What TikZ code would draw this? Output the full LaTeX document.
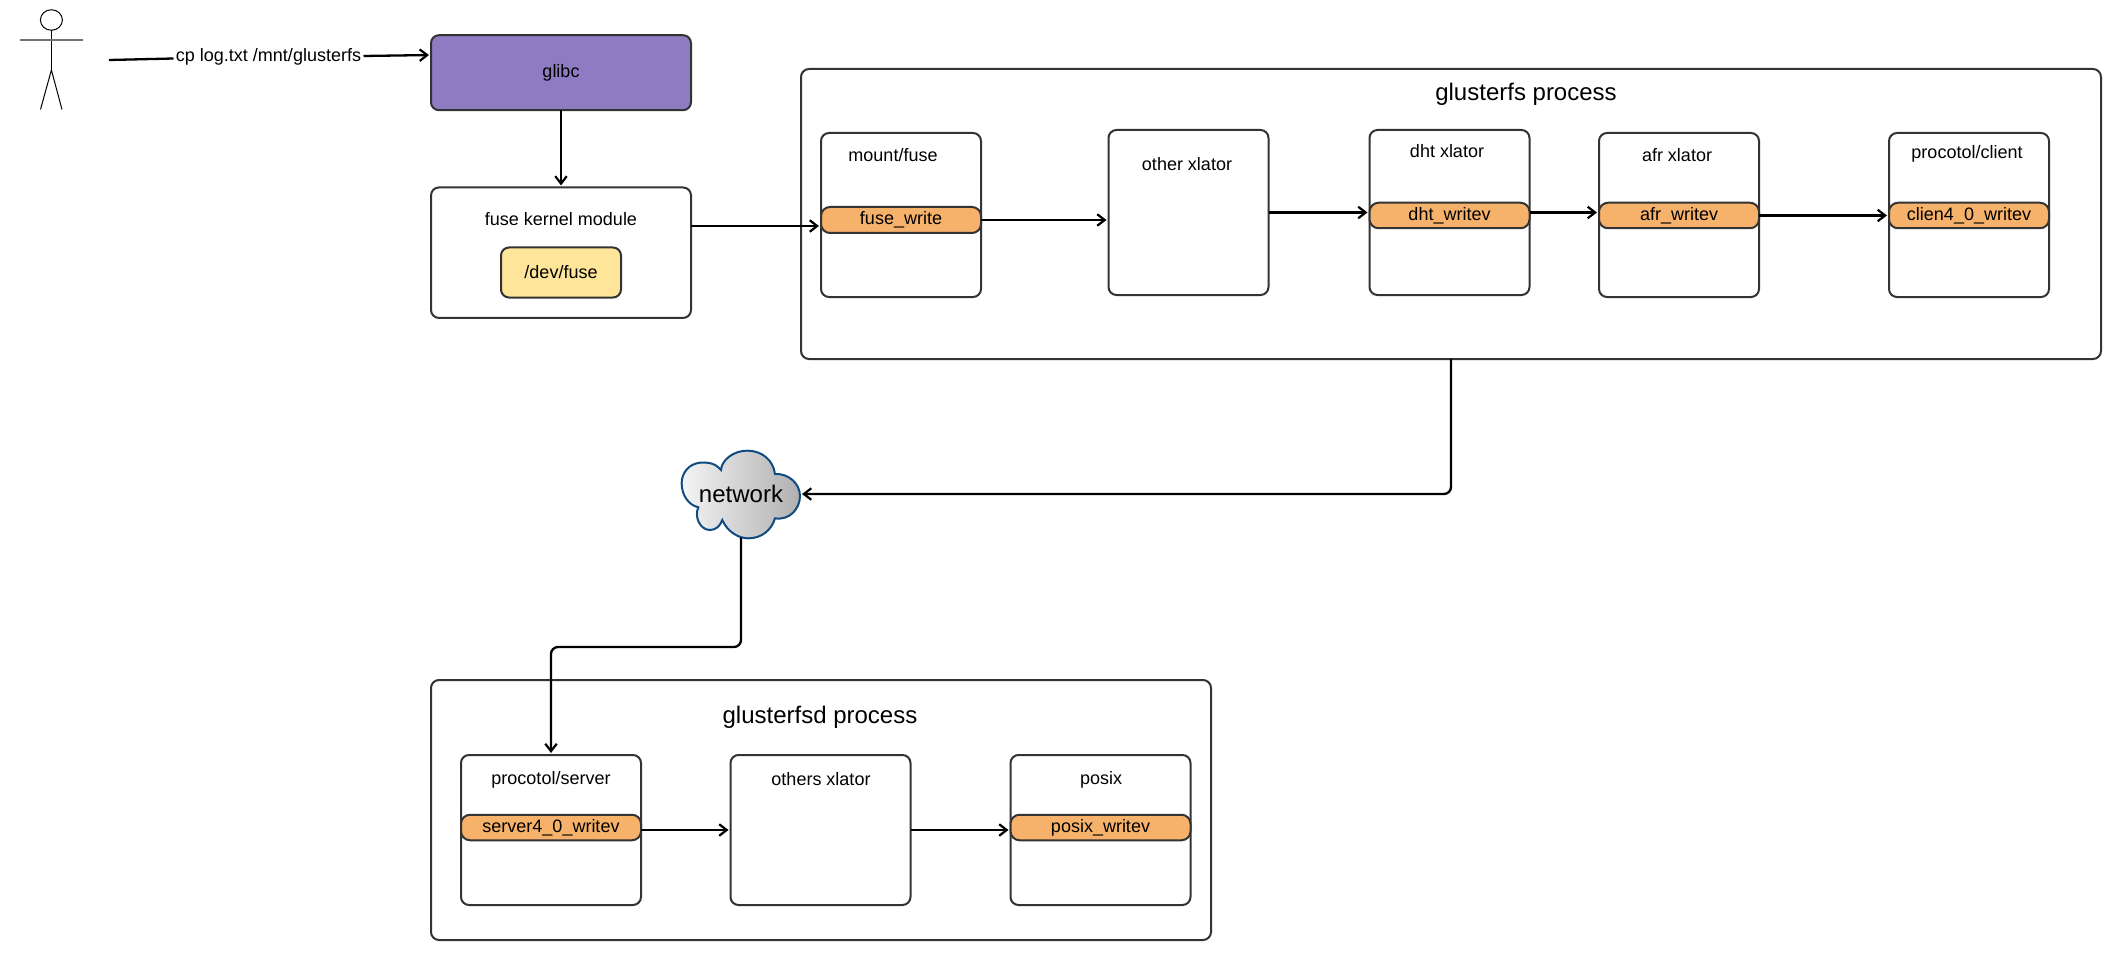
\documentclass[tikz,border=0pt]{standalone}
\usepackage{fontspec}
\setmainfont{Liberation Sans}
\usetikzlibrary{arrows.meta,calc,shapes.geometric}
\definecolor{strokedark}{HTML}{333333}
\definecolor{purplefill}{HTML}{8E7CC3}
\definecolor{yellowfill}{HTML}{FFE599}
\definecolor{orangefill}{HTML}{F6B26B}
\definecolor{cloudline}{HTML}{0F4A80}
\definecolor{cloudleft}{HTML}{F4F4F4}
\definecolor{cloudright}{HTML}{B0B0B0}
\newcommand{\smalltxt}{\fontsize{18}{20}\selectfont}
\newcommand{\bigtxt}{\fontsize{24}{28}\selectfont}
\tikzset{
  box/.style={draw=strokedark,line width=2pt,rounded corners=8pt,fill=white,inner sep=0pt,outer sep=0pt},
  pill/.style={box,fill=orangefill,rounded corners=9pt,font=\smalltxt},
  title/.style={inner sep=0pt,outer sep=0pt,font=\smalltxt,text=black},
  bigtitle/.style={inner sep=0pt,outer sep=0pt,font=\bigtxt,text=black},
  arr/.style={draw=black,line width=2.3pt,shorten >=2pt,-{Straight Barb[length=7.5pt,width=11.5pt,line width=2.2pt]}},
  plain/.style={draw=black,line width=2.3pt},
  stick/.style={draw=black,line width=1pt},
}
\begin{document}
\begin{tikzpicture}[x=1pt,y=-1pt]
\useasboundingbox (0,0) rectangle (2121,960);
% actor
\node[draw=black,line width=1pt,ellipse,minimum width=22pt,minimum height=20.5pt,inner sep=0pt,outer sep=0pt] (head) at (51.4,20) {};
\coordinate (hip) at (51.4,70);
\coordinate (armL) at (20,40);
\coordinate (armR) at (83,40);
\coordinate (legL) at (40.5,109.5);
\coordinate (legR) at (62,109.5);
\draw[stick] (head.south) -- (hip);
\draw[draw=black!55,line width=1.4pt] (armL) -- (armR);
\draw[stick] (legL) -- (hip) -- (legR);
% top-left
\node[box,fill=purplefill,minimum width=260pt,minimum height=75pt] (glibc) at (561,72.7) {};
\node[title] (glibctxt) at (561,73) {glibc};
\node[box,minimum width=260pt,minimum height=130.5pt] (fuse) at (561,252.7) {};
\node[title] (fusetxt) at (561,219) {fuse kernel module};
\node[box,fill=yellowfill,minimum width=120pt,minimum height=50pt] (dev) at (561,272.5) {};
\node[title] (devtxt) at (561,272) {/dev/fuse};
\coordinate (actorout) at (109,60);
\node[title,minimum width=190pt] (cmd) at (268.5,57) {cp log.txt /mnt/glusterfs};
% glusterfs process
\node[box,minimum width=1300pt,minimum height=290pt] (gfs) at (1451,214) {};
\node[bigtitle] (gfstxt) at (1526,94) {glusterfs process};
\node[box,minimum width=160pt,minimum height=164pt] (mount) at (901,215) {};
\node[title] (mounttxt) at (893,155) {mount/fuse};
\node[pill,minimum width=160pt,minimum height=26pt] (fusew) at (901,220) {fuse\_write};
\node[box,minimum width=160pt,minimum height=165pt] (other) at (1188.5,212.5) {};
\node[title] (othertxt) at (1187,164) {other xlator};
\node[box,minimum width=160pt,minimum height=165pt] (dht) at (1449.5,212.5) {};
\node[title] (dhttxt) at (1447,151) {dht xlator};
\node[pill,minimum width=160pt,minimum height=25.5pt] (dhtw) at (1449.5,215.5) {dht\_writev};
\node[box,minimum width=160pt,minimum height=164pt] (afr) at (1679,215) {};
\node[title] (afrtxt) at (1677,155) {afr xlator};
\node[pill,minimum width=160pt,minimum height=25.5pt] (afrw) at (1679,215.5) {afr\_writev};
\node[box,minimum width=160pt,minimum height=164pt] (client) at (1969,215) {};
\node[title] (clienttxt) at (1967,154) {procotol/client};
\node[pill,minimum width=160pt,minimum height=25.5pt] (clientw) at (1969,215.5) {clien4\_0\_writev};
% glusterfsd process
\node[box,minimum width=780pt,minimum height=260pt] (gfsd) at (821,810) {};
\node[bigtitle] (gfsdtxt) at (820,717) {glusterfsd process};
\node[box,minimum width=180pt,minimum height=150pt] (server) at (551,830) {};
\node[title] (servertxt) at (551,780) {procotol/server};
\node[pill,minimum width=180pt,minimum height=25.5pt] (serverw) at (551,827.5) {server4\_0\_writev};
\node[box,minimum width=180pt,minimum height=150pt] (others) at (820.5,830) {};
\node[title] (otherstxt) at (821,779) {others xlator};
\node[box,minimum width=180pt,minimum height=150pt] (posix) at (1100.5,830) {};
\node[title] (posixtxt) at (1101,780) {posix};
\node[pill,minimum width=180pt,minimum height=25.5pt] (posixw) at (1100.5,827.5) {posix\_writev};
% network cloud
\begin{scope}[shift={(640,420)},x=0.3333pt,y=-0.3333pt]
\shade[left color=cloudleft,right color=cloudright,draw=cloudline,line width=2pt]
  (243,150) .. controls (225,128) and (200,126) .. (180,128)
  .. controls (145,132) and (125,160) .. (125,190)
  .. controls (125,225) and (145,255) .. (175,262)
  .. controls (162,290) and (180,330) .. (210,330)
  .. controls (228,330) and (240,318) .. (247,300)
  .. controls (262,335) and (295,355) .. (325,355)
  .. controls (365,355) and (395,330) .. (405,295)
  .. controls (450,302) and (480,265) .. (480,228)
  .. controls (480,190) and (445,160) .. (405,162)
  .. controls (400,120) and (365,92) .. (322,92)
  .. controls (280,92) and (245,120) .. (243,150) -- cycle;
\end{scope}
\node[bigtitle,minimum width=118pt,minimum height=87pt] (network) at (741,494) {network};
% connectors
\draw[plain] (actorout) -- ([yshift=-1.5pt]cmd.west);
\draw[arr] ([yshift=1pt]cmd.east) -- (glibc.west |- 0,55);
\draw[arr] (glibc.south) -- (fuse.north);
\draw[arr] (fuse.east |- 0,226) -- (mount.west |- 0,226);
\draw[arr] (fusew.east) -- (other.west |- fusew.east);
\draw[arr] (other.east) -- (dht.west);
\draw[arr] (dht.east) -- (afr.west |- dht.east);
\draw[arr] (afrw.east) -- (clientw.west);
\draw[arr,rounded corners=7pt] (gfs.south) |- (network.east);
\draw[arr,rounded corners=7pt] (network.south) -- (network.south |- 0,647) -- (server.north |- 0,647) -- (server.north);
\draw[arr] (server.east) -- (others.west);
\draw[arr] (others.east) -- (posix.west);
\end{tikzpicture}
\end{document}
